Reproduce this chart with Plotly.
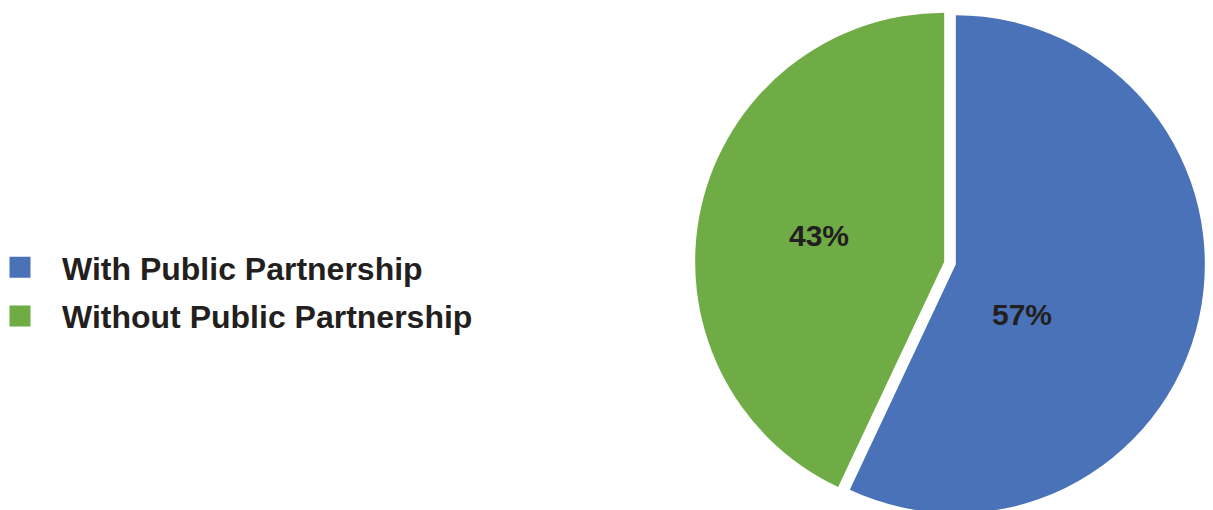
import plotly.graph_objects as go

labels = ["With Public Partnership", "Without Public Partnership"]
values = [57, 43]
colors = ["#4A72B8", "#70AC46"]
# label anchor points (paper coords) for the percentage texts
label_pos = [(0.836, 0.399), (0.6686, 0.554)]

W, H = 1213, 510
OFF = 8  # page body margin

fig = go.Figure()
fig.add_trace(go.Pie(
    labels=labels, values=values, sort=False, direction="clockwise", rotation=0,
    marker=dict(colors=colors, line=dict(width=0)),
    pull=[0.024, 0.024],
    textinfo="none",
    showlegend=False, hoverinfo="label+percent",
    domain=dict(x=[(950 - OFF - 262) / W, (950 - OFF + 262) / W], y=[0, 1]),
))
for lab, col in zip(labels, colors):
    fig.add_trace(go.Scatter(
        x=[None], y=[None], mode="markers", name=lab, legendgroup=lab,
        marker=dict(symbol="square", size=20, color=col, line=dict(width=5, color=col)),
    ))

total = sum(values)
for v, (px, py) in zip(values, label_pos):
    fig.add_annotation(
        x=px, y=py, xref="paper", yref="paper", showarrow=False,
        text=f"{round(v / total * 100)}%", xanchor="center", yanchor="middle",
        font=dict(family="Liberation Sans", size=30, color="#231f20", weight="bold"),
    )

fig.update_layout(
    width=W, height=H,
    margin=dict(l=0, r=0, t=0, b=0, autoexpand=False),
    paper_bgcolor="white", plot_bgcolor="white",
    xaxis=dict(visible=False), yaxis=dict(visible=False),
    showlegend=True,
    legend=dict(x=-30 / W, xanchor="left", y=(H - 284) / H, yanchor="middle",
                font=dict(family="Liberation Sans", size=32, color="#231f20", weight="bold"),
                tracegroupgap=4, itemwidth=74, bgcolor="rgba(0,0,0,0)"),
)
fig.write_html("out.html")
